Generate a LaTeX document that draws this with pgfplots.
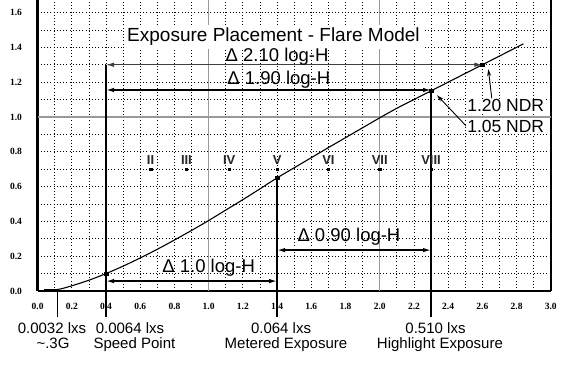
\documentclass[border=0pt]{standalone}
\usepackage{pgfplots}
\pgfplotsset{compat=1.18}
\usepackage{fontspec}
\setmainfont{Liberation Sans}
\newfontfamily\tickfont{Liberation Serif}
\usetikzlibrary{arrows.meta}
\tikzset{
  dbl/.style={black, {Latex[length=8bp,width=4.5bp]}-{Latex[length=8bp,width=4.5bp]}},
  sgl/.style={black, line width=0.9bp, -{Stealth[length=7bp,width=4bp]}},
  big/.style={font=\fontsize{18.5bp}{20bp}\selectfont, inner sep=0pt, anchor=base},
  ndr/.style={font=\fontsize{17.5bp}{19bp}\selectfont, inner sep=1bp, fill=white, anchor=base west},
  rom/.style={font=\bfseries\fontsize{13bp}{15bp}\selectfont, inner sep=0pt, anchor=base, text=black!85},
  bot/.style={font=\fontsize{15bp}{17bp}\selectfont, inner sep=0pt, anchor=base},
}
\begin{document}
\begin{tikzpicture}
\useasboundingbox (-37.6bp,-77bp) rectangle (538.4bp,291bp);
\begin{axis}[
  at={(0,0)}, anchor=south west,
  scale only axis, width=513.2bp, height=291bp,
  xmin=0, xmax=3.0, ymin=0, ymax=1.672,
  axis x line*=bottom, axis y line*=box,
  axis line style={-, line width=2.5bp, black},
  xtick={0,0.2,0.4,0.6,0.8,1.0,1.2,1.4,1.6,1.8,2.0,2.2,2.4,2.6,2.8,3.0},
  ytick={0,0.2,0.4,0.6,0.8,1.0,1.2,1.4,1.6},
  minor x tick num=1, minor y tick num=1,
  major tick length=0, minor tick length=0,
  grid=both,
  grid style={black, line width=0.8bp, dash pattern=on 0.9bp off 2.3bp},
  extra x ticks={1,2}, extra y ticks={1},
  extra x tick labels={{},{}}, extra y tick labels={{}},
  extra tick style={grid=major, major grid style={solid, black!40, line width=1.1bp}},
  tick label style={font=\tickfont\bfseries\fontsize{9.5bp}{10bp}\selectfont},
  xticklabel style={anchor=center, yshift=-15.3bp},
  yticklabel style={anchor=center, xshift=-21.6bp},
  /pgf/number format/fixed,
  /pgf/number format/fixed zerofill,
  /pgf/number format/precision=1,
  /pgf/number format/assume math mode=true,
  clip=false,
]
% characteristic curve
\addplot[black, line width=1.1bp, smooth] coordinates {
 (0.04,0.006) (0.12,0.009) (0.2,0.03) (0.3,0.062) (0.4,0.1) (0.5,0.143)
 (0.6,0.19) (0.7,0.24) (0.8,0.293) (0.9,0.348) (1.0,0.405) (1.1,0.465)
 (1.2,0.525) (1.3,0.587) (1.4,0.65) (1.5,0.708) (1.6,0.766) (1.7,0.824)
 (1.8,0.881) (1.9,0.938) (2.0,0.995) (2.1,1.05) (2.2,1.10) (2.3,1.15)
 (2.4,1.20) (2.5,1.25) (2.6,1.30) (2.7,1.35) (2.84,1.42)};
\addplot[black, line width=2.5bp] coordinates {(0.04,0.006) (0.115,0.006)};
% vertical reference lines
\addplot[black, line width=1.1bp] coordinates {(0.115,0.006) (0.115,-0.15)};
\addplot[black, line width=1.2bp] coordinates {(0.4,1.30) (0.4,-0.15)};
\addplot[black, line width=1.3bp] coordinates {(1.4,0.65) (1.4,-0.15)};
\addplot[black, line width=1.6bp] coordinates {(2.3,1.15) (2.3,-0.15)};
% interval arrows
\addplot[dbl, draw=black!75, line width=1.0bp] coordinates {(0.4,1.30) (2.6,1.30)};
\addplot[dbl, line width=1.4bp] coordinates {(0.4,1.155) (2.3,1.155)};
\addplot[dbl, line width=1.4bp] coordinates {(0.4,0.057) (1.4,0.057)};
\addplot[dbl, line width=1.4bp] coordinates {(1.4,0.235) (2.3,0.235)};
% NDR pointers
\addplot[sgl] coordinates {(2.655,1.107) (2.635,1.275)};
\addplot[sgl] coordinates {(2.509,0.944) (2.335,1.125)};
% markers
\addplot[only marks, mark=square*, mark size=1.7bp, black] coordinates {(0.4,0.1) (1.4,0.65) (2.3,1.15) (2.6,1.30)};
\addplot[only marks, mark=square*, mark size=1.2bp, black] coordinates {(0.66,0.70) (0.87,0.70) (1.12,0.70) (1.40,0.70) (1.70,0.70) (2.00,0.70) (2.30,0.70)};
% zone labels
\node[rom] at (axis cs:0.66,0.724) {II};
\node[rom] at (axis cs:0.87,0.724) {III};
\node[rom] at (axis cs:1.12,0.724) {IV};
\node[rom] at (axis cs:1.40,0.724) {V};
\node[rom] at (axis cs:1.70,0.724) {VI};
\node[rom] at (axis cs:2.00,0.724) {VII};
\node[rom] at (axis cs:2.30,0.724) {VIII};
% title and interval labels
\node[big, fill=white, inner sep=3bp, font=\fontsize{19bp}{21bp}\selectfont] at (axis cs:1.379,1.433) {Exposure Placement - Flare Model};
\node[big] at (axis cs:1.40,1.318) {Δ 2.10 log-H};
\node[big] at (axis cs:1.41,1.184) {Δ 1.90 log-H};
\node[big] at (axis cs:1.00,0.105) {Δ 1.0 log-H};
\node[big] at (axis cs:1.82,0.283) {Δ 0.90 log-H};
\node[ndr] at (axis cs:2.505,1.030) {1.20 NDR};
\node[ndr] at (axis cs:2.505,0.910) {1.05 NDR};
% bottom labels
\node[bot] at (axis cs:0.084,-0.244) {0.0032 lxs};
\node[bot] at (axis cs:0.090,-0.330) {\textasciitilde.3G};
\node[bot] at (axis cs:0.540,-0.244) {0.0064 lxs};
\node[bot] at (axis cs:0.566,-0.330) {Speed Point};
\node[bot] at (axis cs:1.423,-0.244) {0.064 lxs};
\node[bot] at (axis cs:1.452,-0.330) {Metered Exposure};
\node[bot] at (axis cs:2.326,-0.244) {0.510 lxs};
\node[bot] at (axis cs:2.352,-0.330) {Highlight Exposure};
\end{axis}
\end{tikzpicture}
\end{document}
